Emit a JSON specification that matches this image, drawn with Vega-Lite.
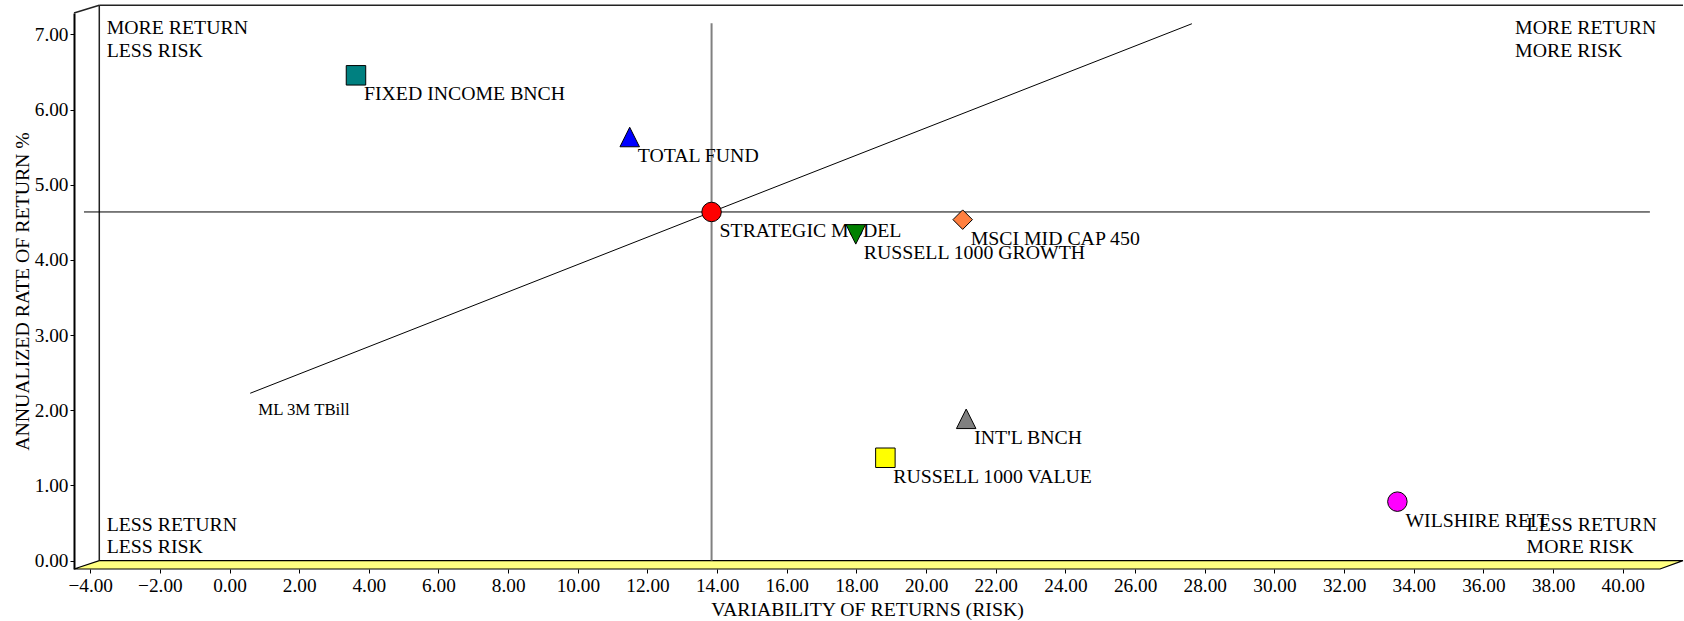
{
  "$schema": "https://vega.github.io/schema/vega-lite/v6.json",
  "width": 1586,
  "height": 556,
  "autosize": {"type": "none"},
  "padding": {"left": 74, "top": 13, "right": 24, "bottom": 52},
  "background": "white",
  "config": {
    "view": {"stroke": null},
    "font": "Liberation Serif",
    "axis": {"labelFont": "Liberation Serif", "titleFont": "Liberation Serif", "labelColor": "black", "titleColor": "black", "titleFontWeight": "normal", "labelFontSize": 19.3, "titleFontSize": 19.8, "grid": false, "tickColor": "black", "tickSize": 4}
  },
  "datasets": {
    "floor": [
      {"x": -4.465, "y": -0.112, "y2": -0.112},
      {"x": -3.739, "y": -0.112, "y2": 0},
      {"x": 41.07, "y": -0.112, "y2": 0},
      {"x": 41.73, "y": 0, "y2": 0}
    ],
    "frame": [
      {"x": -4.465, "y": 7.285, "x2": -3.739, "y2": 7.387},
      {"x": -3.739, "y": 0, "x2": -3.739, "y2": 7.387},
      {"x": -3.739, "y": 7.387, "x2": 41.73, "y2": 7.387}
    ],
    "hline": [{"x": -4.178, "x2": 40.78, "y": 4.638}],
    "vline": [{"x": 13.84, "y": 0, "y2": 7.148}],
    "cml": [
      {"x": 0.594, "y": 2.226},
      {"x": 13.84, "y": 4.638},
      {"x": 27.63, "y": 7.142}
    ],
    "corners": [
      {"x": -3.526, "y": 7.002, "text": "MORE RETURN"},
      {"x": -3.526, "y": 6.703, "text": "LESS RISK"},
      {"x": 36.91, "y": 7.002, "text": "MORE RETURN"},
      {"x": 36.91, "y": 6.703, "text": "MORE RISK"},
      {"x": -3.526, "y": 0.394, "text": "LESS RETURN"},
      {"x": -3.526, "y": 0.097, "text": "LESS RISK"},
      {"x": 37.24, "y": 0.394, "text": "LESS RETURN"},
      {"x": 37.24, "y": 0.097, "text": "MORE RISK"}
    ],
    "tbill": [{"x": 0.594, "y": 2.226, "name": "ML 3M TBill"}],
    "points": [
      {"name": "FIXED INCOME BNCH", "x": 3.631, "y": 6.456},
      {"name": "TOTAL FUND", "x": 11.49, "y": 5.635},
      {"name": "STRATEGIC MODEL", "x": 13.84, "y": 4.638},
      {"name": "RUSSELL 1000 GROWTH", "x": 17.98, "y": 4.34},
      {"name": "MSCI MID CAP 450", "x": 21.05, "y": 4.536},
      {"name": "INT'L BNCH", "x": 21.15, "y": 1.886},
      {"name": "RUSSELL 1000 VALUE", "x": 18.83, "y": 1.368},
      {"name": "WILSHIRE REIT", "x": 33.53, "y": 0.784}
    ]
  },
  "layer": [
    {
      "data": {"name": "floor"},
      "mark": {"type": "area", "fill": "#ffff80", "stroke": "black", "strokeWidth": 1.2},
      "encoding": {
        "x": {"field": "x", "type": "quantitative",
          "scale": {"domain": [-4.465, 41.07], "nice": false, "zero": false},
          "axis": {"title": "VARIABILITY OF RETURNS (RISK)", "values": [-4,-2,0,2,4,6,8,10,12,14,16,18,20,22,24,26,28,30,32,34,36,38,40], "format": ".2f", "domain": false, "labelPadding": 3, "titleY": 46, "titleBaseline": "alphabetic"}},
        "y": {"field": "y", "type": "quantitative",
          "scale": {"domain": [-0.112, 7.285], "nice": false, "zero": false},
          "axis": {"title": "ANNUALIZED RATE OF RETURN %", "values": [0,1,2,3,4,5,6,7], "format": ".2f", "domain": true, "domainColor": "black", "domainWidth": 2, "labelPadding": 2, "titleX": -46, "titleBaseline": "alphabetic"}},
        "y2": {"field": "y2"}
      }
    },
    {
      "data": {"name": "frame"},
      "mark": {"type": "rule", "color": "#222222", "strokeWidth": 1.5},
      "encoding": {
        "x": {"field": "x", "type": "quantitative"},
        "y": {"field": "y", "type": "quantitative"},
        "x2": {"field": "x2"},
        "y2": {"field": "y2"}
      }
    },
    {
      "data": {"name": "hline"},
      "mark": {"type": "rule", "color": "black", "strokeWidth": 1},
      "encoding": {
        "x": {"field": "x", "type": "quantitative"},
        "x2": {"field": "x2"},
        "y": {"field": "y", "type": "quantitative"}
      }
    },
    {
      "data": {"name": "vline"},
      "mark": {"type": "rule", "color": "#808080", "strokeWidth": 2},
      "encoding": {
        "x": {"field": "x", "type": "quantitative"},
        "y": {"field": "y", "type": "quantitative"},
        "y2": {"field": "y2"}
      }
    },
    {
      "data": {"name": "cml"},
      "mark": {"type": "line", "color": "black", "strokeWidth": 1},
      "encoding": {
        "x": {"field": "x", "type": "quantitative"},
        "y": {"field": "y", "type": "quantitative"}
      }
    },
    {
      "data": {"name": "corners"},
      "mark": {"type": "text", "align": "left", "baseline": "alphabetic", "fontSize": 19.8, "color": "black"},
      "encoding": {
        "x": {"field": "x", "type": "quantitative"},
        "y": {"field": "y", "type": "quantitative"},
        "text": {"field": "text"}
      }
    },
    {
      "data": {"name": "tbill"},
      "mark": {"type": "text", "align": "left", "baseline": "alphabetic", "fontSize": 16.8, "dx": 8, "dy": 22, "color": "black"},
      "encoding": {
        "x": {"field": "x", "type": "quantitative"},
        "y": {"field": "y", "type": "quantitative"},
        "text": {"field": "name"}
      }
    },
    {
      "data": {"name": "points"},
      "mark": {"type": "text", "align": "left", "baseline": "alphabetic", "fontSize": 19.8, "dx": 8, "dy": 25, "color": "black"},
      "encoding": {
        "x": {"field": "x", "type": "quantitative"},
        "y": {"field": "y", "type": "quantitative"},
        "text": {"field": "name"}
      }
    },
    {
      "data": {"name": "points"},
      "mark": {"type": "point", "filled": true, "stroke": "black", "strokeWidth": 1, "opacity": 1, "fillOpacity": 1, "size": 380},
      "encoding": {
        "x": {"field": "x", "type": "quantitative"},
        "y": {"field": "y", "type": "quantitative"},
        "shape": {"field": "name", "type": "nominal", "legend": null,
          "scale": {"domain": ["FIXED INCOME BNCH", "TOTAL FUND", "STRATEGIC MODEL", "RUSSELL 1000 GROWTH", "MSCI MID CAP 450", "INT'L BNCH", "RUSSELL 1000 VALUE", "WILSHIRE REIT"],
                    "range": ["square", "M0,-1L1,1L-1,1Z", "circle", "M-1,-1L1,-1L0,1Z", "diamond", "M0,-1L1,1L-1,1Z", "square", "circle"]}},
        "fill": {"field": "name", "type": "nominal", "legend": null,
          "scale": {"domain": ["FIXED INCOME BNCH", "TOTAL FUND", "STRATEGIC MODEL", "RUSSELL 1000 GROWTH", "MSCI MID CAP 450", "INT'L BNCH", "RUSSELL 1000 VALUE", "WILSHIRE REIT"],
                    "range": ["#008080", "#0000ff", "#ff0000", "#008000", "#ff8040", "#808080", "#ffff00", "#ff00ff"]}}
      }
    }
  ]
}
